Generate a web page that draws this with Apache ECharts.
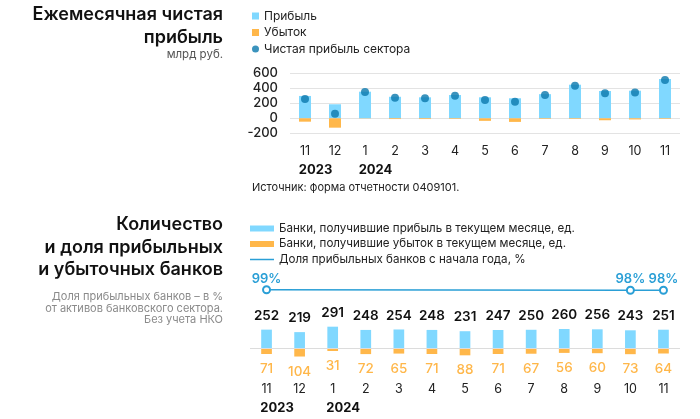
<!DOCTYPE html>
<html>
<head>
<meta charset="utf-8">
<script src="https://cdn.jsdelivr.net/npm/echarts@6/dist/echarts.min.js"></script>
<style>
html,body{margin:0;padding:0;background:#fff;}
#c{width:700px;height:419px;}
</style>
</head>
<body>
<div id="c"></div>
<script>
// ---- data ----
const months = ['11','12','1','2','3','4','5','6','7','8','9','10','11'];
const yearLabels = ['2023','','2024','','','','','','','','','',''];
const profit = [298, 187, 355, 287, 280, 311, 280, 267, 322, 448, 364, 368, 524];
const loss = [-45, -125, -3, -10, -10, -8, -34, -48, -8, -8, -26, -15, -8];
const netProfit = [257, 61, 350, 274, 268, 300, 244, 222, 311, 433, 333, 345, 510];
const topTicks = [-200, 0, 200, 400, 600];

const profitableBanks = [252, 219, 291, 248, 254, 248, 231, 247, 250, 260, 256, 243, 251];
const losingBanks = [71, 104, 31, 72, 65, 71, 88, 71, 67, 56, 60, 73, 64];
const profitableShare = [99, null, null, null, null, null, null, null, null, null, null, 98, 98];

const FONT = 'Inter, "Noto Sans", sans-serif';
const C_BLUE = '#80d8ff';
const C_ORANGE = '#ffb74a';
const C_DOT = '#0a78ad';
const C_LINE = '#2a9fd6';

const names = {
  p: 'Прибыль', l: 'Убыток', n: 'Чистая прибыль сектора',
  bp: 'Банки, получившие прибыль в текущем месяце, ед.',
  bl: 'Банки, получившие убыток в текущем месяце, ед.',
  sh: 'Доля прибыльных банков с начала года, %'
};

function monthYearFormatter(value, index) {
  return yearLabels[index] ? '{m|' + value + '}\n{y|' + yearLabels[index] + '}' : '{m|' + value + '}';
}
const labelRich = {
  m: {fontSize: 12.5, color: '#222', lineHeight: 18, fontFamily: FONT, align: 'center'},
  y: {fontSize: 13, color: '#111', fontWeight: 700, lineHeight: 21, fontFamily: FONT, align: 'center', padding: [0, 0, 0, 21]}
};

const chart = echarts.init(document.getElementById('c'), null, {renderer: 'canvas'});

const titleStyle = {fontSize: 18, fontWeight: 600, fill: '#111', fontFamily: FONT};
const subStyle = {fontSize: 11, fill: '#8a8a8a', fontFamily: FONT};
function txt(text, x, y, style, align) {
  return {type: 'text', x: x, y: y, style: Object.assign({text: text, textAlign: align || 'right', textVerticalAlign: 'middle'}, style)};
}

chart.setOption({
  animation: false,
  textStyle: {fontFamily: FONT},
  graphic: [
    txt('Ежемесячная чистая', 223, 15, titleStyle),
    txt('прибыль', 223, 38, titleStyle),
    txt('млрд руб.', 223, 55, {fontSize: 11.5, fill: '#555', fontFamily: FONT}),
    txt('Источник: форма отчетности 0409101.', 252, 188, {fontSize: 11, fill: '#222', fontFamily: FONT}, 'left'),
    txt('Количество', 223, 225, titleStyle),
    txt('и доля прибыльных', 223, 248, titleStyle),
    txt('и убыточных банков', 223, 270, titleStyle),
    txt('Доля прибыльных банков – в %', 223, 297, subStyle),
    txt('от активов банковского сектора.', 223, 308.3, subStyle),
    txt('Без учета НКО', 223, 319.6, subStyle)
  ],
  legend: [
    {
      orient: 'vertical', left: 252, top: 10, padding: 0, itemWidth: 7, itemHeight: 7, itemGap: 4.5,
      selectedMode: false,
      textStyle: {fontSize: 12, color: '#222', fontFamily: FONT},
      data: [
        {name: names.p, icon: 'rect'},
        {name: names.l, icon: 'rect'},
        {name: names.n, icon: 'circle'}
      ]
    },
    {
      orient: 'vertical', left: 250, top: 222.5, padding: 0, itemWidth: 24, itemHeight: 6, itemGap: 3.5,
      selectedMode: false,
      textStyle: {fontSize: 11.6, color: '#222', fontFamily: FONT},
      data: [
        {name: names.bp, icon: 'rect'},
        {name: names.bl, icon: 'rect'},
        {name: names.sh, icon: 'path://M0 0H24V1.5H0Z', itemStyle: {color: C_LINE}}
      ]
    }
  ],
  grid: [
    {left: 290, right: 20, top: 73.3, height: 60},
    {left: 250, right: 20, top: 326, height: 34},
    {left: 250, right: 20, top: 289.4, height: 40}
  ],
  xAxis: [
    {
      type: 'category', gridIndex: 0, data: months,
      axisLine: {show: false}, axisTick: {show: false},
      axisLabel: {interval: 0, margin: 8.5, formatter: monthYearFormatter, rich: labelRich}
    },
    {
      type: 'category', gridIndex: 1, data: months,
      axisLine: {show: false}, axisTick: {show: false},
      axisLabel: {interval: 0, margin: 20, formatter: monthYearFormatter, rich: labelRich}
    },
    {
      type: 'category', gridIndex: 2, data: months, show: false
    }
  ],
  yAxis: [
    {
      type: 'value', gridIndex: 0, min: topTicks[0], max: topTicks[topTicks.length - 1], interval: 200,
      axisLine: {show: false}, axisTick: {show: false},
      axisLabel: {margin: 12, fontSize: 13, color: '#222', fontWeight: 500, fontFamily: FONT},
      splitLine: {lineStyle: {color: '#e3e3e3', width: 1}}
    },
    {
      type: 'value', gridIndex: 1, min: -150, max: 300, show: false, splitLine: {show: false}
    },
    {
      type: 'value', gridIndex: 2, min: 0, max: 100, show: false, splitLine: {show: false}
    }
  ],
  series: [
    {
      name: names.p, type: 'bar', xAxisIndex: 0, yAxisIndex: 0, data: profit,
      barWidth: 12, barGap: '-100%', itemStyle: {color: C_BLUE}
    },
    {
      name: names.l, type: 'bar', xAxisIndex: 0, yAxisIndex: 0, data: loss,
      barWidth: 12, barGap: '-100%', itemStyle: {color: C_ORANGE}
    },
    {
      name: names.n, type: 'scatter', xAxisIndex: 0, yAxisIndex: 0, data: netProfit,
      symbolSize: 8, itemStyle: {color: C_DOT}, z: 5
    },
    {
      name: names.bp, type: 'bar', xAxisIndex: 1, yAxisIndex: 1, data: profitableBanks,
      barWidth: 10.7, barGap: '-100%', itemStyle: {color: C_BLUE},
      label: {show: true, position: 'top', distance: 7, fontSize: 13.5, fontWeight: 600, color: '#111', fontFamily: FONT},
      markLine: {
        silent: true, symbol: 'none', label: {show: false},
        lineStyle: {color: '#dcdcdc', type: 'solid', width: 1},
        data: [{yAxis: 0}]
      }
    },
    {
      name: names.bl, type: 'bar', xAxisIndex: 1, yAxisIndex: 1,
      data: losingBanks.map(function (v) { return -v; }),
      barWidth: 10.7, barGap: '-100%', itemStyle: {color: C_ORANGE},
      label: {
        show: true, position: 'bottom', distance: 8, fontSize: 13.5, fontWeight: 500, color: C_ORANGE, fontFamily: FONT,
        formatter: function (p) { return Math.abs(p.value); }
      }
    },
    {
      name: names.sh, type: 'line', xAxisIndex: 2, yAxisIndex: 2, data: profitableShare,
      connectNulls: true, clip: false,
      symbol: 'emptyCircle', symbolSize: 7, showAllSymbol: true,
      lineStyle: {color: C_LINE, width: 1.5},
      itemStyle: {color: C_LINE, borderWidth: 1.5},
      label: {
        show: true, position: 'top', distance: 0, fontSize: 13, fontWeight: 600, color: C_LINE, fontFamily: FONT,
        formatter: function (p) { return p.value + '%'; }
      }
    }
  ]
});
</script>
</body>
</html>
